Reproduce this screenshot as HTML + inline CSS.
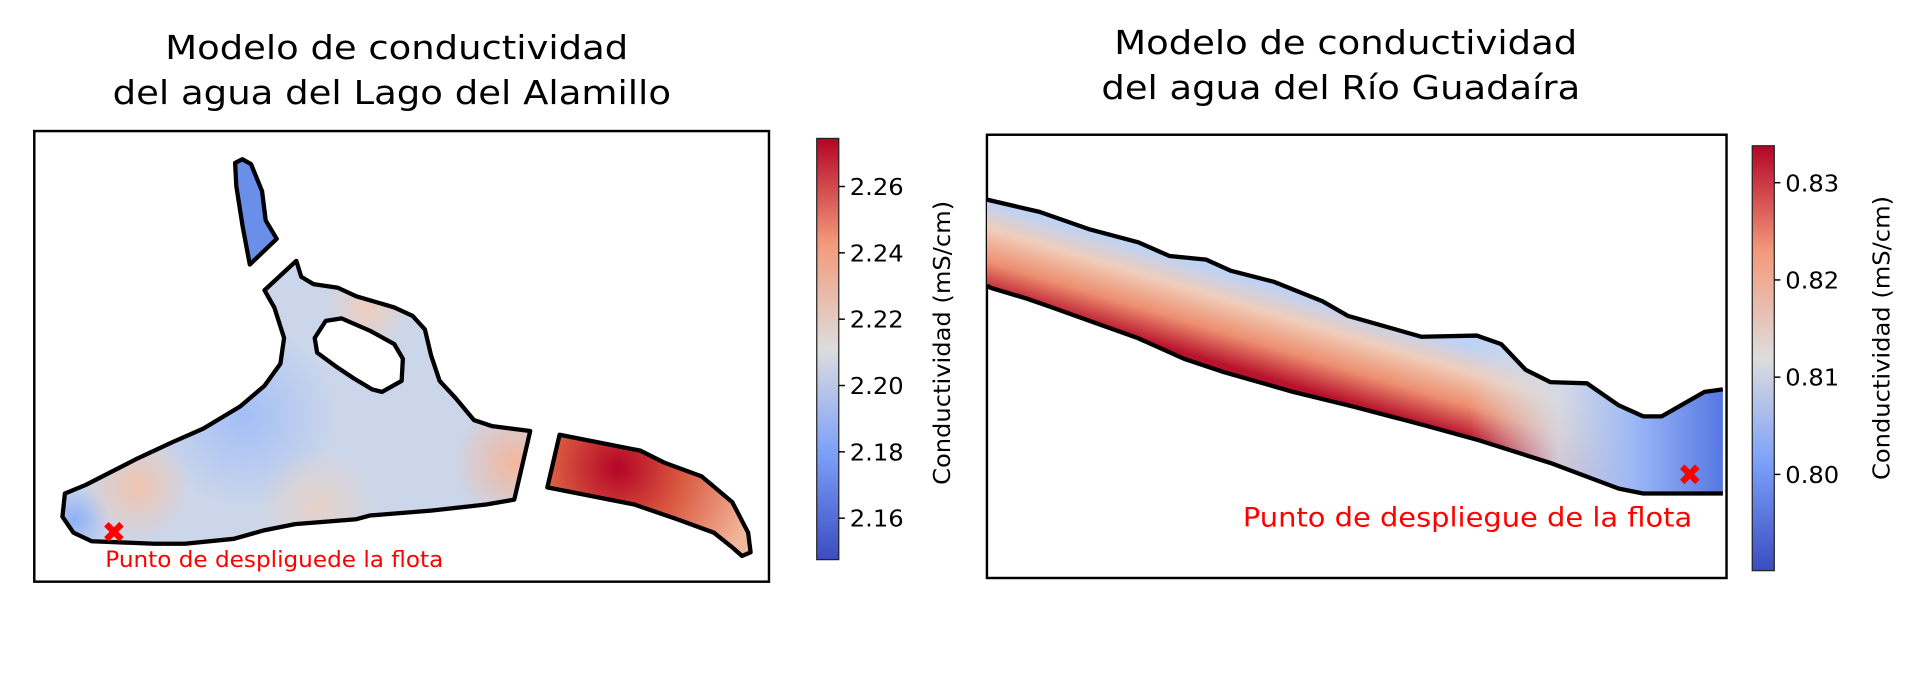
<!DOCTYPE html>
<html><head><meta charset="utf-8">
<style>
html,body{margin:0;padding:0;background:#fff;}
svg{display:block;}
text{font-family:"DejaVu Sans","Liberation Sans",sans-serif;}
</style></head>
<body>
<svg id="fig" width="1920" height="676" viewBox="0 0 1568 552" xmlns="http://www.w3.org/2000/svg">
<defs>
  <linearGradient id="cw" x1="0" y1="1" x2="0" y2="0">
    <stop offset="0" stop-color="#3b4cc0"/>
    <stop offset="0.25" stop-color="#7b9ff9"/>
    <stop offset="0.5" stop-color="#dddddd"/>
    <stop offset="0.75" stop-color="#f49a7b"/>
    <stop offset="1" stop-color="#b40426"/>
  </linearGradient>
  <radialGradient id="warm1" gradientUnits="userSpaceOnUse" cx="112" cy="398" r="45">
    <stop offset="0" stop-color="#f0c4ae"/><stop offset="1" stop-color="#f0c4ae" stop-opacity="0"/>
  </radialGradient>
  <radialGradient id="warm2" gradientUnits="userSpaceOnUse" cx="420" cy="378" r="50">
    <stop offset="0" stop-color="#f2b79c"/><stop offset="1" stop-color="#f2b79c" stop-opacity="0"/>
  </radialGradient>
  <radialGradient id="warm3" gradientUnits="userSpaceOnUse" cx="300" cy="252" r="35">
    <stop offset="0" stop-color="#efcdbd"/><stop offset="1" stop-color="#efcdbd" stop-opacity="0"/>
  </radialGradient>
  <radialGradient id="warm4" gradientUnits="userSpaceOnUse" cx="260" cy="415" r="50">
    <stop offset="0" stop-color="#e6d2c8"/><stop offset="1" stop-color="#e6d2c8" stop-opacity="0"/>
  </radialGradient>
  <radialGradient id="blue1" gradientUnits="userSpaceOnUse" cx="200" cy="340" r="75">
    <stop offset="0" stop-color="#a3bef7"/><stop offset="1" stop-color="#a3bef7" stop-opacity="0"/>
  </radialGradient>
  <radialGradient id="blue2" gradientUnits="userSpaceOnUse" cx="60" cy="425" r="30">
    <stop offset="0" stop-color="#8eb0f5"/><stop offset="1" stop-color="#8eb0f5" stop-opacity="0"/>
  </radialGradient>
  <radialGradient id="redspot" gradientUnits="userSpaceOnUse" cx="505" cy="382" r="115">
    <stop offset="0" stop-color="#b40426"/><stop offset="0.45" stop-color="#d9583f"/><stop offset="1" stop-color="#f2b89c"/>
  </radialGradient>
  <linearGradient id="river" gradientUnits="userSpaceOnUse" x1="1000" y1="222" x2="979" y2="292">
    <stop offset="0" stop-color="#bdd2f6"/>
    <stop offset="0.3" stop-color="#f0cdb9"/>
    <stop offset="0.65" stop-color="#ee8f70"/>
    <stop offset="1" stop-color="#b8122c"/>
  </linearGradient>
  <linearGradient id="riverend" gradientUnits="userSpaceOnUse" x1="1200" y1="0" x2="1407" y2="0">
    <stop offset="0" stop-color="#dddddd" stop-opacity="0"/>
    <stop offset="0.35" stop-color="#d5dbe6" stop-opacity="0.9"/>
    <stop offset="0.65" stop-color="#9bb8f6"/>
    <stop offset="1" stop-color="#5677e3"/>
  </linearGradient>
  <clipPath id="mainclip"><path id="mainpath" d="M242,213 L246,226 L256,232 L276,235 L291,242 L322,251 L337,258 L347,269 L352,290 L359,311 L372,325 L387,343 L402,348 L433,352 L420,408 L397,412 L352,417 L302,421 L291,424 L241,428 L216,433 L191,440 L151,444 L126,444 L75,442 L60,435 L51,422 L53,403 L70,396 L111,375 L141,361 L166,350 L196,332 L216,315 L229,297 L232,276 L224,251 L216,237 Z"/></clipPath>
</defs>

<!-- LEFT PANEL -->
<g>
  <text x="324" y="48" font-size="27" text-anchor="middle" textLength="378" lengthAdjust="spacingAndGlyphs" fill="#000">Modelo de conductividad</text>
  <text x="320" y="85" font-size="27" text-anchor="middle" textLength="456" lengthAdjust="spacingAndGlyphs" fill="#000">del agua del Lago del Alamillo</text>
  <rect x="28" y="107" width="600" height="368" fill="#fff" stroke="#000" stroke-width="2"/>
  <path d="M192,133 L198,130 L205,134 L214,156 L217,180 L226,195 L204,216 L198,184 L193,152 Z" fill="#6a8fe8" stroke="#000" stroke-width="3.5" stroke-linejoin="round"/>
  <g clip-path="url(#mainclip)">
    <rect x="40" y="200" width="420" height="260" fill="#cbd6ea"/>
    <rect x="40" y="200" width="420" height="260" fill="url(#blue1)"/>
    <rect x="40" y="200" width="420" height="260" fill="url(#blue2)"/>
    <rect x="40" y="200" width="420" height="260" fill="url(#warm1)"/>
    <rect x="40" y="200" width="420" height="260" fill="url(#warm2)"/>
    <rect x="40" y="200" width="420" height="260" fill="url(#warm3)"/>
    <rect x="40" y="200" width="420" height="260" fill="url(#warm4)"/>
  </g>
  <use href="#mainpath" fill="none" stroke="#000" stroke-width="3.5" stroke-linejoin="round"/>
  <path d="M266,262 L279,260 L302,270 L322,281 L329,293 L328,311 L312,320 L304,318 L289,309 L274,299 L259,288 L257,276 Z" fill="#fff" stroke="#000" stroke-width="3.5" stroke-linejoin="round"/>
  <path d="M457,355 L523,368 L543,378 L573,389 L598,410 L611,435 L613,451 L606,454 L598,447 L583,435 L553,424 L518,412 L447,398 Z" fill="url(#redspot)" stroke="#000" stroke-width="3.5" stroke-linejoin="round"/>
  <text x="93" y="443" font-size="24" font-weight="bold" text-anchor="middle" fill="#ff0000">✖</text>
  <text x="86" y="463" font-size="18" textLength="276" lengthAdjust="spacingAndGlyphs" fill="#ff0000">Punto de despliguede la flota</text>
  <g id="cbarL">
    <rect x="667" y="113" width="18" height="344" fill="url(#cw)" stroke="#222" stroke-width="1"/>
  </g>
  <text transform="translate(776,280) rotate(-90)" font-size="19" text-anchor="middle" textLength="232" lengthAdjust="spacingAndGlyphs" fill="#000">Conductividad (mS/cm)</text>
</g>

<!-- RIGHT PANEL -->
<g>
  <text x="1099" y="44" font-size="27" text-anchor="middle" textLength="378" lengthAdjust="spacingAndGlyphs" fill="#000">Modelo de conductividad</text>
  <text x="1095" y="81" font-size="27" text-anchor="middle" textLength="391" lengthAdjust="spacingAndGlyphs" fill="#000">del agua del Río Guadaíra</text>
  <rect x="806" y="110" width="604" height="362" fill="#fff" stroke="#000" stroke-width="2"/>
  <path id="riverpath" d="M806,163 L849,173 L889,187 L930,198 L955,209 L985,212 L1005,221 L1040,230 L1080,246 L1101,258 L1161,275 L1206,274 L1226,281 L1246,302 L1266,312 L1296,313 L1322,331 L1342,340 L1357,340 L1392,320 L1407,318 L1407,403 L1342,403 L1322,399 L1266,378 L1206,359 L1166,348 L1105,332 L1056,320 L1000,304 L967,293 L929,276 L898,265 L859,251 L839,244 L809,235 L806,233 Z" fill="url(#river)"/>
  <path d="M806,163 L849,173 L889,187 L930,198 L955,209 L985,212 L1005,221 L1040,230 L1080,246 L1101,258 L1161,275 L1206,274 L1226,281 L1246,302 L1266,312 L1296,313 L1322,331 L1342,340 L1357,340 L1392,320 L1407,318 L1407,403 L1342,403 L1322,399 L1266,378 L1206,359 L1166,348 L1105,332 L1056,320 L1000,304 L967,293 L929,276 L898,265 L859,251 L839,244 L809,235 L806,233 Z" fill="url(#riverend)"/>
  <path d="M806,163 L849,173 L889,187 L930,198 L955,209 L985,212 L1005,221 L1040,230 L1080,246 L1101,258 L1161,275 L1206,274 L1226,281 L1246,302 L1266,312 L1296,313 L1322,331 L1342,340 L1357,340 L1392,320 L1407,318" fill="none" stroke="#000" stroke-width="3.5" stroke-linejoin="round"/>
  <path d="M806,233 L809,235 L839,244 L859,251 L898,265 L929,276 L967,293 L1000,304 L1056,320 L1105,332 L1166,348 L1206,359 L1266,378 L1322,399 L1342,403 L1407,403" fill="none" stroke="#000" stroke-width="3.5" stroke-linejoin="round"/>
  <text x="1380" y="396" font-size="24" font-weight="bold" text-anchor="middle" fill="#ff0000">✖</text>
  <text x="1382" y="430" font-size="22" text-anchor="end" textLength="367" lengthAdjust="spacingAndGlyphs" fill="#ff0000">Punto de despliegue de la flota</text>
  <g id="cbarR">
    <rect x="1431" y="119" width="18" height="347" fill="url(#cw)" stroke="#222" stroke-width="1"/>
  </g>
  <text transform="translate(1543,276) rotate(-90)" font-size="19" text-anchor="middle" textLength="232" lengthAdjust="spacingAndGlyphs" fill="#000">Conductividad (mS/cm)</text>
</g>
</svg>
<script>
const leftTicks = [2.16, 2.18, 2.20, 2.22, 2.24, 2.26];
const leftTickLabels = ["2.16", "2.18", "2.20", "2.22", "2.24", "2.26"];
const leftRange = [2.1475, 2.2745];
const rightTicks = [0.80, 0.81, 0.82, 0.83];
const rightTickLabels = ["0.80", "0.81", "0.82", "0.83"];
const rightRange = [0.7901, 0.8338];
const NS = "http://www.w3.org/2000/svg";
function drawTicks(gid, ticks, labels, range, x0, w, top, bottom) {
  const g = document.getElementById(gid);
  const scale = v => bottom - (v - range[0]) / (range[1] - range[0]) * (bottom - top);
  ticks.forEach((v, i) => {
    const y = scale(v);
    const ln = document.createElementNS(NS, "line");
    
    
    ln.setAttribute("x1", x0 + w); ln.setAttribute("x2", x0 + w + 5);
    ln.setAttribute("y1", y); ln.setAttribute("y2", y);
    ln.setAttribute("stroke", "#000"); ln.setAttribute("stroke-width", "1.2");
    g.appendChild(ln);
    const t = document.createElementNS(NS, "text");
    
    
    t.setAttribute("x", x0 + w + 9); t.setAttribute("y", y + 7);
    t.setAttribute("font-size", "19"); t.setAttribute("fill", "#000");
    t.setAttribute("textLength", "44"); t.setAttribute("lengthAdjust", "spacingAndGlyphs");
    t.textContent = labels[i];
    g.appendChild(t);
  });
}
drawTicks("cbarL", leftTicks, leftTickLabels, leftRange, 667, 18, 113, 457);
drawTicks("cbarR", rightTicks, rightTickLabels, rightRange, 1431, 18, 119, 466);
</script>
</body></html>
